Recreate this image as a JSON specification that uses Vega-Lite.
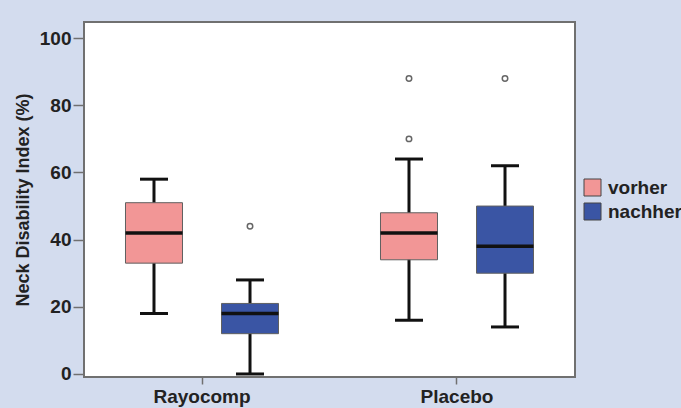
{
  "$schema": "https://vega.github.io/schema/vega-lite/v6.json",
  "width": 491,
  "height": 355,
  "autosize": "none",
  "padding": {"left": 84, "top": 22, "right": 106, "bottom": 31},
  "background": "#d3dcee",
  "config": {
    "view": {"fill": "white", "stroke": "#707070", "strokeWidth": 2},
    "font": "Liberation Sans"
  },
  "datasets": {
    "stats": [
      {"group": "Rayocomp", "zeit": "vorher", "min": 18, "q1": 33, "median": 42, "q3": 51, "max": 58},
      {"group": "Rayocomp", "zeit": "nachher", "min": 0, "q1": 12, "median": 18, "q3": 21, "max": 28},
      {"group": "Placebo", "zeit": "vorher", "min": 16, "q1": 34, "median": 42, "q3": 48, "max": 64},
      {"group": "Placebo", "zeit": "nachher", "min": 14, "q1": 30, "median": 38, "q3": 50, "max": 62}
    ],
    "outliers": [
      {"group": "Rayocomp", "zeit": "nachher", "value": 44},
      {"group": "Placebo", "zeit": "vorher", "value": 70},
      {"group": "Placebo", "zeit": "vorher", "value": 88},
      {"group": "Placebo", "zeit": "nachher", "value": 88}
    ]
  },
  "encoding": {
    "x": {
      "field": "group",
      "type": "nominal",
      "sort": ["Rayocomp", "Placebo"],
      "scale": {"paddingInner": 0.0745, "paddingOuter": 0},
      "axis": {
        "title": null,
        "labelAngle": 0,
        "domain": false,
        "tickSize": 7,
        "tickColor": "#707070",
        "tickWidth": 1.5,
        "labelFont": "Liberation Sans",
        "labelFontWeight": "bold",
        "labelFontSize": 19,
        "labelColor": "#222222",
        "labelPadding": 3
      }
    },
    "xOffset": {
      "field": "zeit",
      "type": "nominal",
      "sort": ["vorher", "nachher"],
      "scale": {"paddingInner": 0, "paddingOuter": 0.229}
    }
  },
  "layer": [
    {
      "data": {"name": "stats"},
      "mark": {"type": "rule", "color": "#111111", "strokeWidth": 3},
      "encoding": {
        "y": {
          "field": "min",
          "type": "quantitative",
          "scale": {"domain": [-0.9, 104.8], "nice": false, "zero": false},
          "axis": {
            "title": "Neck Disability Index (%)",
            "values": [0, 20, 40, 60, 80, 100],
            "grid": false,
            "domain": false,
            "tickSize": 11,
            "tickColor": "#707070",
            "tickWidth": 1.5,
            "labelFont": "Liberation Sans",
            "labelFontWeight": "bold",
            "labelFontSize": 19,
            "labelColor": "#222222",
            "labelPadding": 2,
            "titleFont": "Liberation Sans",
            "titleFontWeight": "bold",
            "titleFontSize": 18,
            "titleColor": "#222222",
            "titlePadding": 7
          }
        },
        "y2": {"field": "max"}
      }
    },
    {
      "data": {"name": "stats"},
      "mark": {"type": "bar", "size": 57, "stroke": "#606060", "strokeWidth": 1},
      "encoding": {
        "y": {"field": "q1", "type": "quantitative"},
        "y2": {"field": "q3"},
        "color": {
          "field": "zeit",
          "type": "nominal",
          "scale": {"domain": ["vorher", "nachher"], "range": ["#f29696", "#3a55a4"]},
          "legend": {
            "title": null,
            "orient": "none",
            "legendX": 499,
            "legendY": 156,
            "padding": 0,
            "symbolType": "square",
            "symbolSize": 289,
            "symbolStrokeColor": "#444444",
            "symbolStrokeWidth": 1,
            "symbolOpacity": 1,
            "labelFont": "Liberation Sans",
            "labelFontWeight": "bold",
            "labelFontSize": 19,
            "labelColor": "#222222",
            "labelOffset": 6,
            "rowPadding": 3,
            "labelLimit": 200
          }
        }
      }
    },
    {
      "data": {"name": "stats"},
      "mark": {"type": "tick", "color": "#111111", "size": 57, "thickness": 3.5, "opacity": 1},
      "encoding": {"y": {"field": "median", "type": "quantitative"}}
    },
    {
      "data": {"name": "stats"},
      "mark": {"type": "tick", "color": "#111111", "size": 28, "thickness": 3, "opacity": 1},
      "encoding": {"y": {"field": "min", "type": "quantitative"}}
    },
    {
      "data": {"name": "stats"},
      "mark": {"type": "tick", "color": "#111111", "size": 28, "thickness": 3, "opacity": 1},
      "encoding": {"y": {"field": "max", "type": "quantitative"}}
    },
    {
      "data": {"name": "outliers"},
      "mark": {"type": "point", "shape": "circle", "filled": false, "stroke": "#666666", "strokeWidth": 1.5, "size": 30, "opacity": 1},
      "encoding": {"y": {"field": "value", "type": "quantitative"}}
    }
  ]
}
